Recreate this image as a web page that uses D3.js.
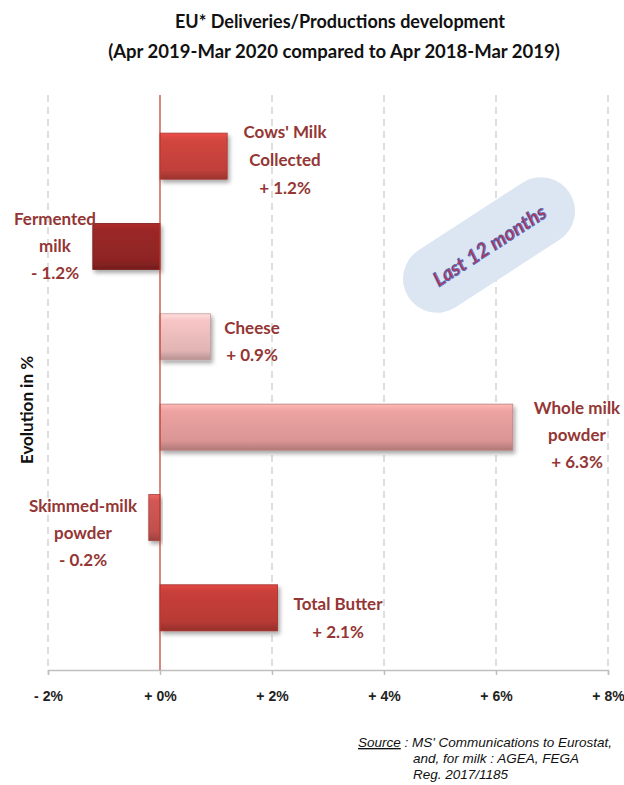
<!DOCTYPE html>
<html>
<head>
<meta charset="utf-8">
<script src="https://cdn.jsdelivr.net/npm/d3@7"></script>
<style>
  body { margin: 0; background: #fff; }
  svg text { font-family: Lato, "Open Sans", sans-serif; }
</style>
</head>
<body>
<script>
// Chart data
const categories = ["Cows' Milk Collected", "Fermented milk", "Cheese", "Whole milk powder", "Skimmed-milk powder", "Total Butter"];
const values = [1.2, -1.2, 0.9, 6.3, -0.2, 2.1];
const labelLines = [
  ["Cows' Milk", "Collected", "+ 1.2%"],
  ["Fermented", "milk", "- 1.2%"],
  ["Cheese", "+ 0.9%"],
  ["Whole milk", "powder", "+ 6.3%"],
  ["Skimmed-milk", "powder", "- 0.2%"],
  ["Total Butter", "+ 2.1%"]
];
const barColors = ["#c0403a", "#8e2424", "#e2b4b4", "#d99594", "#c0504d", "#b83a35"];
const xTicks = [-2, 0, 2, 4, 6, 8];

let width = 624, height = 785;
let margin = { top: 95, bottom: 115, left: 48, right: 16 };

let svg = d3.select('body')
    .append('svg')
    .attr('width', width)
    .attr('height', height);

const defs = svg.append('defs');

// drop shadow for bars
const shadow = defs.append('filter').attr('id', 'shadow')
    .attr('x', '-10%').attr('y', '-10%').attr('width', '130%').attr('height', '140%');
shadow.append('feDropShadow')
    .attr('dx', 2).attr('dy', 3).attr('stdDeviation', 2)
    .attr('flood-color', '#000').attr('flood-opacity', 0.35);

// gradient per bar for the bevel look
barColors.forEach((c, i) => {
  const g = defs.append('linearGradient').attr('id', 'grad' + i)
      .attr('x1', 0).attr('y1', 0).attr('x2', 0).attr('y2', 1);
  g.append('stop').attr('offset', '0%').attr('stop-color', d3.color(c).brighter(0.6));
  g.append('stop').attr('offset', '15%').attr('stop-color', d3.color(c).brighter(0.25));
  g.append('stop').attr('offset', '80%').attr('stop-color', c);
  g.append('stop').attr('offset', '100%').attr('stop-color', d3.color(c).darker(0.6));
});

const xScale = d3.scaleLinear()
    .domain([-2, 8])
    .range([margin.left, width - margin.right]);

const yScale = d3.scaleBand()
    .domain(categories)
    .range([111, 653])
    .paddingInner(0.49)
    .paddingOuter(0.245);

const axisY = height - margin.bottom;

// gridlines
svg.append('g')
    .selectAll('line')
    .data(xTicks.filter(t => t !== 0))
    .enter()
    .append('line')
    .attr('x1', d => xScale(d))
    .attr('x2', d => xScale(d))
    .attr('y1', margin.top)
    .attr('y2', axisY)
    .attr('stroke', '#bfbfbf')
    .attr('stroke-width', 1)
    .attr('stroke-dasharray', '7,5');

// x axis
let xAxis = svg.append('g')
    .attr('transform', `translate(0,${axisY})`)
    .call(d3.axisBottom(xScale)
      .tickValues(xTicks)
      .tickSize(5)
      .tickFormat(d => (d < 0 ? '- ' : '+ ') + Math.abs(d) + '%'));

xAxis.select('.domain').attr('stroke', '#bfbfbf').attr('stroke-width', 1.5);
xAxis.selectAll('.tick line').attr('stroke', '#bfbfbf').attr('stroke-width', 1.5);
xAxis.selectAll('.tick text')
    .attr('y', 21)
    .style('font-size', '14px')
    .style('font-weight', 'bold')
    .style('font-family', '"Liberation Sans Narrow", sans-serif')
    .attr('fill', '#222');

// bars
svg.selectAll('rect.bar')
    .data(values)
    .enter()
    .append('rect')
    .attr('class', 'bar')
    .attr('x', d => xScale(Math.min(0, d)))
    .attr('y', (d, i) => yScale(categories[i]))
    .attr('width', d => Math.abs(xScale(d) - xScale(0)))
    .attr('height', yScale.bandwidth())
    .attr('fill', (d, i) => `url(#grad${i})`)
    .attr('stroke', (d, i) => d3.color(barColors[i]).darker(0.4))
    .attr('stroke-width', 0.8)
    .attr('filter', 'url(#shadow)');

// zero line
svg.append('line')
    .attr('x1', xScale(0))
    .attr('x2', xScale(0))
    .attr('y1', margin.top)
    .attr('y2', axisY)
    .attr('stroke', '#c0392b')
    .attr('stroke-width', 1.2);

// bar labels
const labelPos = [
  { x: 285, y: 138 },
  { x: 55, y: 225 },
  { x: 252, y: 334 },
  { x: 577, y: 414 },
  { x: 83, y: 512 },
  { x: 338, y: 610 }
];
const lineGap = [28, 27, 27, 27, 27, 28];

labelLines.forEach((lines, i) => {
  const t = svg.append('text')
      .attr('text-anchor', 'middle')
      .attr('fill', '#943634')
      .style('font-size', '17px')
      .style('font-weight', 'bold');
  lines.forEach((ln, j) => {
    t.append('tspan')
        .attr('x', labelPos[i].x)
        .attr('y', labelPos[i].y + j * lineGap[i])
        .text(ln);
  });
});

// "Last 12 months" badge
const badge = svg.append('g')
    .attr('transform', 'translate(489,245) rotate(-33)');
badge.append('rect')
    .attr('x', -96).attr('y', -34)
    .attr('width', 192).attr('height', 68)
    .attr('rx', 34)
    .attr('fill', '#dce6f2');
badge.append('text')
    .attr('text-anchor', 'middle')
    .attr('y', 8)
    .attr('fill', '#c0304a')
    .attr('stroke', '#4a6bc0')
    .attr('stroke-width', 0.8)
    .style('font-size', '20px')
    .style('font-weight', 'bold')
    .style('font-style', 'italic')
    .text('Last 12 months');

// y axis title
svg.append('text')
    .attr('transform', 'translate(33,410) rotate(-90)')
    .attr('text-anchor', 'middle')
    .attr('fill', '#111')
    .style('font-size', '17px')
    .style('font-weight', 'bold')
    .text('Evolution in %');

// title
svg.append('text')
    .attr('x', 340)
    .attr('y', 28)
    .attr('text-anchor', 'middle')
    .attr('fill', '#111')
    .style('font-size', '18px')
    .style('font-weight', 'bold')
    .text('EU* Deliveries/Productions development');

svg.append('text')
    .attr('x', 334)
    .attr('y', 58)
    .attr('text-anchor', 'middle')
    .attr('fill', '#111')
    .style('font-size', '18.5px')
    .style('font-weight', 'bold')
    .text('(Apr 2019-Mar 2020 compared to Apr 2018-Mar 2019)');

// source note
const src = svg.append('text')
    .attr('fill', '#111')
    .style('font-family', '"Liberation Sans", Arial, sans-serif')
    .style('font-size', '13.5px')
    .style('font-style', 'italic');
src.append('tspan').attr('x', 358).attr('y', 747)
    .style('text-decoration', 'underline').text('Source');
src.append('tspan').text(" : MS' Communications to Eurostat,");
src.append('tspan').attr('x', 413).attr('y', 763).text('and, for milk : AGEA, FEGA');
src.append('tspan').attr('x', 413).attr('y', 779).text('Reg. 2017/1185');
</script>
</body>
</html>
